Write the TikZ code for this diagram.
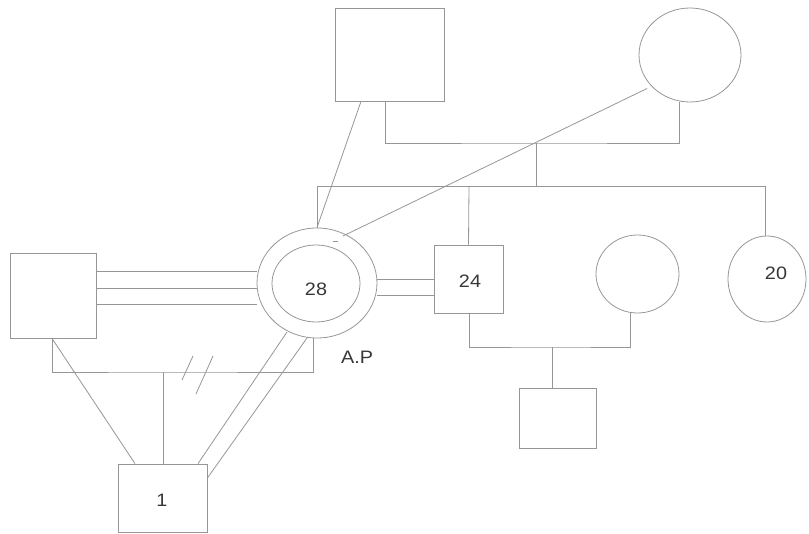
\documentclass[tikz,border=0pt]{standalone}
\usepackage{fontspec}
\setmainfont{Liberation Sans}
\usetikzlibrary{shapes.geometric}
\definecolor{lncol}{RGB}{150,150,150}
\definecolor{txtcol}{RGB}{55,55,55}
\tikzset{
  ln/.style={draw=lncol, line width=0.8pt},
  sq/.style={rectangle, draw=lncol, line width=0.8pt, inner sep=0pt, font=\fontsize{18}{20}\selectfont, text=txtcol},
  ov/.style={ellipse, draw=lncol, line width=0.8pt, inner sep=0pt, font=\fontsize{18}{20}\selectfont, text=txtcol},
  lbl/.style={inner sep=0pt, font=\fontsize{18}{20}\selectfont, text=txtcol}
}
\begin{document}
\begin{tikzpicture}[x=1pt,y=-1pt]
\useasboundingbox (0,0) rectangle (809,534);
% persons
\node[sq, minimum width=109, minimum height=93] (gf) at (389.5,54.5) {};
\node[ov, minimum width=102, minimum height=94] (gm) at (690,55) {};
\node[ov, minimum width=120, minimum height=110] (ap) at (317,283) {};
\node[ov, minimum width=88, minimum height=77] (api) at (316,283.5) {};
\node[lbl, xscale=1.1] (t28) at (316,289) {28};
\node[sq, minimum width=86, minimum height=85] (lf) at (53,295.5) {};
\node[sq, minimum width=69, minimum height=68] (b24) at (468.5,279) {};
\node[lbl, xscale=1.1] (t24) at (470,281) {24};
\node[ov, minimum width=83, minimum height=78] (wf) at (637.5,274) {};
\node[ov, minimum width=78, minimum height=86] (s20) at (767,279) {};
\node[lbl, xscale=1.1] (t20) at (776,273) {20};
\node[sq, minimum width=77, minimum height=60] (gc) at (557.5,418) {};
\node[sq, minimum width=89, minimum height=68] (c1) at (162.5,498) {};
\node[lbl, xscale=1.1] (t1) at (162,500) {1};
\node[lbl, xscale=1.1] (tap) at (357,357) {A.P};
% junction coordinates
\coordinate (m1) at (536,143);
\coordinate (sb) at (536,186);
\coordinate (sl) at (317,186);
\coordinate (s24) at (469,186);
\coordinate (sr) at (765,186);
\coordinate (m2) at (163,372);
\coordinate (m3) at (552,347);
% grandparents marriage and offspring
\draw[ln] (gf.south -| 385,0) |- (m1) -| (gm.south -| 679,0);
\draw[ln] (m1) -- (sb);
\draw[ln] (sl) -- (sr);
\draw[ln] (sl) -- (ap.north);
\draw[ln] (s24) -- (b24.north);
\draw[ln] (sr) -- (s20.north -| sr);
% relationships of A.P with grandparents
\draw[ln] (gf.south -| 361,0) -- (ap.north);
\draw[ln] (gm.south west -| 647,77) -- (343,236);
\draw[ln] (333,241) -- (338,241);
% A.P and partner
\draw[ln] (lf.east |- 0,271) -- (ap.west |- 0,271);
\draw[ln] (lf.east |- 0,288) -- (ap.west |- 0,288);
\draw[ln] (lf.east |- 0,304) -- (ap.west |- 0,304);
\draw[ln] (lf.south -| 52,0) |- (m2) -| (ap.south -| 313,0);
\draw[ln] (m2) -- (c1.north -| m2);
\draw[ln] (193,356) -- (182,380);
\draw[ln] (213,356) -- (196,394);
\draw[ln] (lf.south -| 52,0) -- (c1.north -| 135,0);
\draw[ln] (287,332) -- (c1.north -| 198,0);
\draw[ln] (307,338) -- (c1.east |- 0,478);
% A.P and brother
\draw[ln] (ap.east |- 0,279) -- (b24.west |- 0,279);
\draw[ln] (ap.east |- 0,295) -- (b24.west |- 0,295);
% brother's family
\draw[ln] (b24.south -| s24) |- (m3) -| (wf.south -| 630,0);
\draw[ln] (m3) -- (gc.north -| m3);
\end{tikzpicture}
\end{document}
